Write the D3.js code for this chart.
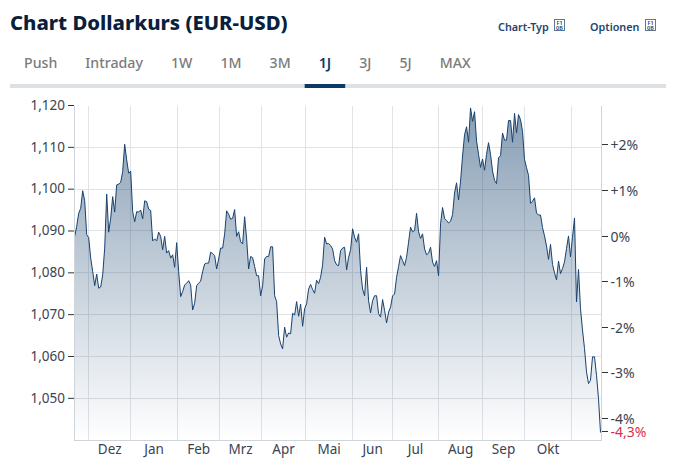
<!DOCTYPE html>
<html>
<head>
<meta charset="utf-8">
<script src="https://cdnjs.cloudflare.com/ajax/libs/d3/7.8.5/d3.min.js"></script>
<style>
  html, body { margin: 0; padding: 0; background: #fff; }
  svg { display: block; font-family: "Noto Sans", sans-serif; }
</style>
</head>
<body>
<div id="chart"></div>
<script>
// Data
var tabs = ["Push", "Intraday", "1W", "1M", "3M", "1J", "3J", "5J", "MAX"];
var activeTab = "1J";
var yTicks = [1.05, 1.06, 1.07, 1.08, 1.09, 1.10, 1.11, 1.12];
var pctTicks = [2, 1, 0, -1, -2, -3, -4];
var lastPct = -4.3;
var basePrice = 1.0888;
var monthLabels = ["Dez", "Jan", "Feb", "Mrz", "Apr", "Mai", "Jun", "Jul", "Aug", "Sep", "Okt"];
var monthStarts = [7, 28, 51.5, 72.5, 93.5, 115.5, 139, 159, 182, 204, 225, 248.5];
var prices = [
  1.0886,1.0910,1.0941,1.0953,1.0995,1.0971,1.0890,1.0883,1.0834,1.0802,1.0768,1.0796,1.0762,1.0765,1.0794,1.0858,
  1.0987,1.0896,1.0929,1.0981,1.0944,1.1009,1.1011,1.1015,1.1041,1.1106,1.1069,1.1037,1.1042,1.0945,1.0921,1.0945,
  1.0944,1.0949,1.0928,1.0971,1.0969,1.0951,1.0948,1.0875,1.0880,1.0875,1.0896,1.0886,1.0854,1.0886,1.0846,1.0852,
  1.0834,1.0842,1.0812,1.0871,1.0802,1.0742,1.0754,1.0770,1.0774,1.0780,1.0770,1.0710,1.0726,1.0768,1.0774,
  1.0779,1.0802,1.0820,1.0822,1.0822,1.0848,1.0845,1.0840,1.0808,1.0832,1.0858,1.0858,1.0892,1.0947,1.0939,1.0927,
  1.0929,1.0950,1.0886,1.0897,1.0873,1.0868,1.0933,1.0880,1.0808,1.0838,1.0835,1.0814,1.0792,1.0792,1.0744,1.0768,
  1.0832,1.0838,1.0838,1.0861,1.0861,1.0744,1.0730,1.0649,1.0629,1.0617,1.0669,1.0645,1.0655,1.0653,1.0702,1.0698,
  1.0730,1.0695,1.0724,1.0671,1.0713,1.0725,1.0760,1.0771,1.0759,1.0750,1.0781,1.0773,1.0788,1.0818,1.0884,1.0868,1.0869,
  1.0864,1.0856,1.0828,1.0818,1.0816,1.0852,1.0858,1.0860,1.0806,1.0836,1.0854,1.0904,1.0884,1.0872,1.0892,1.0804,
  1.0760,1.0744,1.0812,1.0732,1.0703,1.0732,1.0744,1.0744,1.0701,1.0693,1.0735,1.0709,1.0679,1.0705,1.0717,1.0744,
  1.0748,1.0788,1.0814,1.0840,1.0828,1.0816,1.0836,1.0872,1.0908,1.0897,1.0900,1.0941,1.0897,1.0881,1.0892,1.0856,
  1.0842,1.0846,1.0860,1.0824,1.0814,1.0828,1.0792,1.0916,1.0955,1.0929,1.0924,1.0918,
  1.0922,1.0938,1.0990,1.1014,1.0973,1.1018,1.1078,1.1129,1.1148,1.1111,1.1193,1.1161,1.1184,1.1114,1.1082,1.1051,
  1.1071,1.1044,1.1082,1.1110,1.1082,1.1042,1.1020,1.1012,1.1074,1.1079,1.1133,1.1116,1.1116,1.1163,1.1163,1.1111,
  1.1180,1.1133,1.1177,1.1165,1.1137,1.1070,1.1050,1.1032,1.0965,1.0970,1.0978,1.0942,1.0937,1.0937,1.0907,1.0887,
  1.0863,1.0831,1.0867,1.0819,1.0799,1.0782,1.0827,
  1.0797,1.0809,1.0825,1.0857,1.0887,1.0837,1.0884,1.0930,1.0729,1.0807,1.0713,1.0662,1.0618,1.0562,1.0534,1.0542,
  1.0598,1.0598,1.0554,1.0498,1.0417
];

var attrs = {
  svgWidth: 674,
  svgHeight: 474,
  plotLeft: 74.5,
  plotRight: 600.5,
  plotTop: 105,
  plotBottom: 440.5,
  yMin: 1.0398,
  yMax: 1.12,
  textFill: "#3b4350",
  gridColor: "#e1e3e7",
  frameColor: "#cfd4db",
  lineColor: "#17426f",
  navy: "#0c3a66"
};

var svg = d3.select("#chart").append("svg")
  .attr("width", attrs.svgWidth)
  .attr("height", attrs.svgHeight);

// Header
svg.append("text").attr("x", 10).attr("y", 30)
  .attr("font-size", 20.3).attr("font-weight", 800).attr("fill", "#0a1f3b")
  .text("Chart Dollarkurs (EUR-USD)");

[["Chart-Typ", 498, 554], ["Optionen", 590, 645]].forEach(function (d) {
  svg.append("text").attr("x", d[1]).attr("y", 31)
    .attr("font-size", 10.8).attr("font-weight", 600).attr("fill", "#1d4470").text(d[0]);
  // the icon font is missing in the reference, it shows the hex box of the glyph
  svg.append("rect").attr("x", d[2] + 0.5).attr("y", 19.5).attr("width", 10).attr("height", 11)
    .attr("fill", "none").attr("stroke", "#5b7896");
  var hex = svg.append("text").attr("text-anchor", "middle")
    .attr("font-size", 5.5).attr("font-weight", 600).attr("fill", "#1d4470");
  ["F1", "0B"].forEach(function (s, i) {
    hex.append("tspan").attr("x", d[2] + 5.5).attr("y", 24.5 + i * 5).text(s);
  });
});

// Tabs
svg.append("rect").attr("x", 10).attr("y", 84).attr("width", 656).attr("height", 4).attr("fill", "#dde0e4");
var tabX = 10;
tabs.forEach(function (t) {
  var active = t === activeTab;
  var label = svg.append("text").attr("y", 68).attr("font-size", 14.2)
    .attr("font-weight", active ? 600 : 500)
    .attr("fill", active ? attrs.navy : "#7b7b7b").text(t);
  var w = label.node().getComputedTextLength();
  label.attr("x", tabX + 14);
  if (active) {
    svg.append("rect").attr("x", tabX).attr("y", 84).attr("width", w + 28).attr("height", 4).attr("fill", attrs.navy);
  }
  tabX += w + 28;
});

// Scales
var x = d3.scaleLinear().domain([0, prices.length - 1]).range([attrs.plotLeft + 0.2, attrs.plotRight]);
var y = d3.scaleLinear().domain([attrs.yMin, attrs.yMax]).range([attrs.plotBottom, attrs.plotTop]);
var pctY = function (p) { return y(basePrice * (1 + p / 100)); };
var commaFormat = d3.formatLocale({ decimal: ",", thousands: ".", grouping: [3], currency: ["", "€"] }).format(".3f");

// Grid
var grid = svg.append("g").attr("stroke", attrs.gridColor).attr("shape-rendering", "crispEdges");
grid.selectAll(".h").data(yTicks.filter(function (d) { return d < attrs.yMax; })).enter().append("line")
  .attr("x1", attrs.plotLeft).attr("x2", attrs.plotRight)
  .attr("y1", function (d) { return Math.round(y(d)) + 0.5; })
  .attr("y2", function (d) { return Math.round(y(d)) + 0.5; });
grid.selectAll(".v").data(monthStarts).enter().append("line")
  .attr("x1", function (d) { return Math.floor(x(d)) + 0.5; })
  .attr("x2", function (d) { return Math.floor(x(d)) + 0.5; })
  .attr("y1", attrs.plotTop + 1).attr("y2", attrs.plotBottom);

// Area + line
var defs = svg.append("defs");
var grad = defs.append("linearGradient").attr("id", "areaFill")
  .attr("gradientUnits", "userSpaceOnUse")
  .attr("x1", 0).attr("x2", 0).attr("y1", attrs.plotTop).attr("y2", attrs.plotBottom);
grad.append("stop").attr("offset", "0%").attr("stop-color", "#0f3c69").attr("stop-opacity", 0.5);
grad.append("stop").attr("offset", "100%").attr("stop-color", "#0f3c69").attr("stop-opacity", 0);

svg.append("path").datum(prices)
  .attr("fill", "url(#areaFill)")
  .attr("d", d3.area().x(function (d, i) { return x(i); }).y0(attrs.plotBottom).y1(function (d) { return y(d); }));
svg.append("path").datum(prices)
  .attr("fill", "none").attr("stroke", attrs.lineColor).attr("stroke-width", 1)
  .attr("d", d3.line().x(function (d, i) { return x(i); }).y(function (d) { return y(d); }));

// Frame
var frame = svg.append("g").attr("stroke", attrs.frameColor).attr("shape-rendering", "crispEdges");
frame.append("line").attr("x1", attrs.plotLeft).attr("x2", attrs.plotLeft).attr("y1", attrs.plotTop + 1).attr("y2", attrs.plotBottom);
frame.append("line").attr("x1", attrs.plotRight + 0.5).attr("x2", attrs.plotRight + 0.5).attr("y1", attrs.plotTop + 1).attr("y2", attrs.plotBottom);
frame.append("line").attr("x1", attrs.plotLeft).attr("x2", attrs.plotRight + 0.5).attr("y1", attrs.plotBottom).attr("y2", attrs.plotBottom);

// Left axis
var leftAxis = svg.append("g").attr("transform", "translate(" + (attrs.plotLeft - 0.5) + ",0)")
  .call(d3.axisLeft(y).tickValues(yTicks).tickSize(6).tickPadding(3).tickFormat(commaFormat));
leftAxis.select(".domain").remove();
leftAxis.selectAll("line").attr("stroke", "#333");
leftAxis.selectAll("text").attr("fill", attrs.textFill).attr("font-size", 13.5).attr("font-family", "Noto Sans");

// Right axis, percent against the start price
var pctGroup = svg.selectAll(".pct").data(pctTicks.concat([lastPct])).enter().append("g").attr("class", "pct")
  .attr("transform", function (d) { return "translate(0," + (Math.round(pctY(d)) + 0.5) + ")"; });
pctGroup.append("line").attr("x1", attrs.plotRight + 1.5).attr("x2", attrs.plotRight + 7)
  .attr("stroke", "#333").attr("shape-rendering", "crispEdges");
pctGroup.append("text").attr("x", attrs.plotRight + 10).attr("dy", "0.36em").attr("font-size", 14)
  .attr("fill", function (d) { return d === lastPct ? "#d9304a" : attrs.textFill; })
  .text(function (d) {
    var s = String(Math.abs(d)).replace(".", ",") + "%";
    return d > 0 ? "+" + s : d < 0 ? "-" + s : s;
  });

// Month labels sit between the month boundaries
svg.selectAll(".month").data(monthLabels).enter().append("text").attr("class", "month")
  .attr("x", function (d, i) { return (x(monthStarts[i]) + x(monthStarts[i + 1])) / 2; })
  .attr("y", 454).attr("text-anchor", "middle").attr("font-size", 13.5).attr("fill", attrs.textFill)
  .text(function (d) { return d; });
</script>
</body>
</html>
